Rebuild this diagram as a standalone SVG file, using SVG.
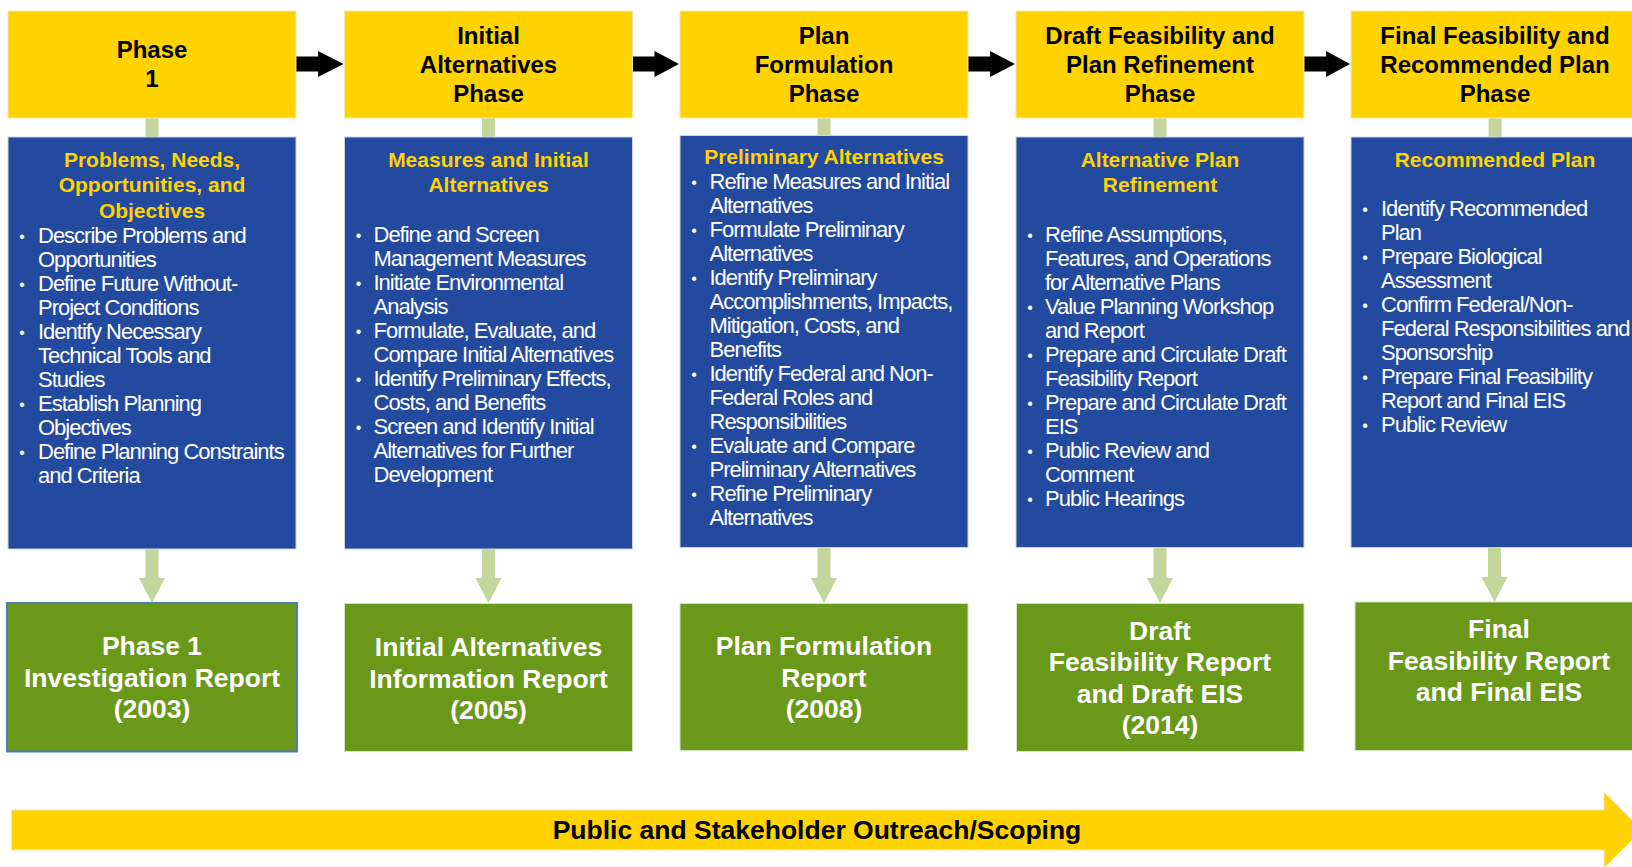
<svg xmlns="http://www.w3.org/2000/svg" width="1632" height="867" viewBox="0 0 1632 867">
  <style>
    .phase { fill: #FFD300; stroke: #F2E6B0; stroke-width: 1; }
    .task { fill: #234A9E; stroke: #C9D2E6; stroke-width: 1; }
    .report { fill: #6A9819; stroke: #D6E2C0; stroke-width: 1; }
    .link { fill: #C3D69B; }
    .flow { fill: #000000; }
    .phase-t { font-family: "Liberation Sans", Arial, sans-serif; font-weight: bold; font-size: 24px; fill: #000000; text-anchor: middle; }
    .head-t { font-family: "Liberation Sans", Arial, sans-serif; font-weight: bold; font-size: 21px; fill: #FFD300; text-anchor: middle; }
    .item-t { font-family: "Liberation Sans", Arial, sans-serif; font-size: 22px; letter-spacing: -1px; fill: #FFFFFF; }
    .dot-t { font-family: "Liberation Sans", Arial, sans-serif; font-size: 16px; fill: #FFFFFF; text-anchor: middle; }
    .report-t { font-family: "Liberation Sans", Arial, sans-serif; font-weight: bold; font-size: 26.5px; fill: #FFFFFF; text-anchor: middle; }
    .band-t { font-family: "Liberation Sans", Arial, sans-serif; font-weight: bold; font-size: 26.5px; fill: #000000; text-anchor: middle; }
  </style>

  <!-- connectors: phase-to-phase arrows, stems and report arrows -->
  <g id="connectors">
    <polygon class="flow" points="296,56.5 318,56.5 318,51 343.5,64 318,77 318,71.5 296,71.5"/>
    <polygon class="flow" points="632.5,56.5 654.5,56.5 654.5,51 679,64 654.5,77 654.5,71.5 632.5,71.5"/>
    <polygon class="flow" points="968,56.5 990,56.5 990,51 1015,64 990,77 990,71.5 968,71.5"/>
    <polygon class="flow" points="1304,56.5 1326,56.5 1326,51 1350,64 1326,77 1326,71.5 1304,71.5"/>

    <rect class="link" x="145.5" y="118" width="13" height="20"/>
    <rect class="link" x="482" y="118" width="13" height="20"/>
    <rect class="link" x="817.5" y="118" width="13" height="18"/>
    <rect class="link" x="1153.5" y="118" width="13" height="20"/>
    <rect class="link" x="1488.5" y="118" width="13" height="20"/>

    <polygon class="link" points="145.5,549 158.5,549 158.5,578 165,578 152,603 139,578 145.5,578"/>
    <polygon class="link" points="482,549 495,549 495,578 501.5,578 488.5,603 475.5,578 482,578"/>
    <polygon class="link" points="817.5,547.5 830.5,547.5 830.5,578 837,578 824,603 811,578 817.5,578"/>
    <polygon class="link" points="1153.5,547.5 1166.5,547.5 1166.5,578 1173,578 1160,603 1147,578 1153.5,578"/>
    <polygon class="link" points="1488,547.5 1501,547.5 1501,577 1507.5,577 1494.5,602 1481.5,577 1488,577"/>
  </g>

  <!-- Phase 1 -->
  <g id="phase1">
    <rect class="phase" x="8" y="11" width="288" height="107"/>
    <text class="phase-t"><tspan x="152" y="58">Phase</tspan><tspan x="152" y="87">1</tspan></text>
    <rect class="task" x="8" y="137" width="288" height="412"/>
    <text class="head-t"><tspan x="152" y="166.7">Problems, Needs,</tspan><tspan x="152" y="192.3">Opportunities, and</tspan><tspan x="152" y="217.5">Objectives</tspan></text>
    <text class="dot-t"><tspan x="22" y="242">•</tspan><tspan x="22" y="290">•</tspan><tspan x="22" y="338">•</tspan><tspan x="22" y="410">•</tspan><tspan x="22" y="458">•</tspan></text>
    <text class="item-t">
      <tspan x="38" y="243">Describe Problems and</tspan>
      <tspan x="38" y="267">Opportunities</tspan>
      <tspan x="38" y="291">Define Future Without-</tspan>
      <tspan x="38" y="315">Project Conditions</tspan>
      <tspan x="38" y="339">Identify Necessary</tspan>
      <tspan x="38" y="363">Technical Tools and</tspan>
      <tspan x="38" y="387">Studies</tspan>
      <tspan x="38" y="411">Establish Planning</tspan>
      <tspan x="38" y="435">Objectives</tspan>
      <tspan x="38" y="459">Define Planning Constraints</tspan>
      <tspan x="38" y="483">and Criteria</tspan>
    </text>
    <rect class="report" x="7" y="603" width="290" height="148.5" style="stroke:#4A7EBB;stroke-width:2"/>
    <text class="report-t"><tspan x="152" y="655">Phase 1</tspan><tspan x="152" y="686.5">Investigation Report</tspan><tspan x="152" y="718">(2003)</tspan></text>
  </g>

  <!-- Initial Alternatives Phase -->
  <g id="phase2">
    <rect class="phase" x="344.5" y="11" width="288" height="107"/>
    <text class="phase-t"><tspan x="488.5" y="44">Initial</tspan><tspan x="488.5" y="73">Alternatives</tspan><tspan x="488.5" y="102">Phase</tspan></text>
    <rect class="task" x="344.5" y="137" width="288" height="412"/>
    <text class="head-t"><tspan x="488.5" y="166.7">Measures and Initial</tspan><tspan x="488.5" y="192.3">Alternatives</tspan></text>
    <text class="dot-t"><tspan x="358.5" y="241">•</tspan><tspan x="358.5" y="289">•</tspan><tspan x="358.5" y="337">•</tspan><tspan x="358.5" y="385">•</tspan><tspan x="358.5" y="433">•</tspan></text>
    <text class="item-t">
      <tspan x="373.5" y="242">Define and Screen</tspan>
      <tspan x="373.5" y="266">Management Measures</tspan>
      <tspan x="373.5" y="290">Initiate Environmental</tspan>
      <tspan x="373.5" y="314">Analysis</tspan>
      <tspan x="373.5" y="338">Formulate, Evaluate, and</tspan>
      <tspan x="373.5" y="362">Compare Initial Alternatives</tspan>
      <tspan x="373.5" y="386">Identify Preliminary Effects,</tspan>
      <tspan x="373.5" y="410">Costs, and Benefits</tspan>
      <tspan x="373.5" y="434">Screen and Identify Initial</tspan>
      <tspan x="373.5" y="458">Alternatives for Further</tspan>
      <tspan x="373.5" y="482">Development</tspan>
    </text>
    <rect class="report" x="344.5" y="603.5" width="288" height="148"/>
    <text class="report-t"><tspan x="488.5" y="656">Initial Alternatives</tspan><tspan x="488.5" y="687.5">Information Report</tspan><tspan x="488.5" y="719">(2005)</tspan></text>
  </g>

  <!-- Plan Formulation Phase -->
  <g id="phase3">
    <rect class="phase" x="680" y="11" width="288" height="107"/>
    <text class="phase-t"><tspan x="824" y="44">Plan</tspan><tspan x="824" y="73">Formulation</tspan><tspan x="824" y="102">Phase</tspan></text>
    <rect class="task" x="680" y="135.5" width="288" height="412"/>
    <text class="head-t"><tspan x="824" y="164">Preliminary Alternatives</tspan></text>
    <text class="dot-t"><tspan x="694" y="188">•</tspan><tspan x="694" y="236">•</tspan><tspan x="694" y="284">•</tspan><tspan x="694" y="380">•</tspan><tspan x="694" y="452">•</tspan><tspan x="694" y="500">•</tspan></text>
    <text class="item-t">
      <tspan x="709.5" y="189">Refine Measures and Initial</tspan>
      <tspan x="709.5" y="213">Alternatives</tspan>
      <tspan x="709.5" y="237">Formulate Preliminary</tspan>
      <tspan x="709.5" y="261">Alternatives</tspan>
      <tspan x="709.5" y="285">Identify Preliminary</tspan>
      <tspan x="709.5" y="309">Accomplishments, Impacts,</tspan>
      <tspan x="709.5" y="333">Mitigation, Costs, and</tspan>
      <tspan x="709.5" y="357">Benefits</tspan>
      <tspan x="709.5" y="381">Identify Federal and Non-</tspan>
      <tspan x="709.5" y="405">Federal Roles and</tspan>
      <tspan x="709.5" y="429">Responsibilities</tspan>
      <tspan x="709.5" y="453">Evaluate and Compare</tspan>
      <tspan x="709.5" y="477">Preliminary Alternatives</tspan>
      <tspan x="709.5" y="501">Refine Preliminary</tspan>
      <tspan x="709.5" y="525">Alternatives</tspan>
    </text>
    <rect class="report" x="680" y="603.5" width="288" height="147"/>
    <text class="report-t"><tspan x="824" y="655">Plan Formulation</tspan><tspan x="824" y="686.5">Report</tspan><tspan x="824" y="718">(2008)</tspan></text>
  </g>

  <!-- Draft Feasibility and Plan Refinement Phase -->
  <g id="phase4">
    <rect class="phase" x="1016" y="11" width="288" height="107"/>
    <text class="phase-t"><tspan x="1160" y="44">Draft Feasibility and</tspan><tspan x="1160" y="73">Plan Refinement</tspan><tspan x="1160" y="102">Phase</tspan></text>
    <rect class="task" x="1016" y="137" width="288" height="410.5"/>
    <text class="head-t"><tspan x="1160" y="166.7">Alternative Plan</tspan><tspan x="1160" y="192.3">Refinement</tspan></text>
    <text class="dot-t"><tspan x="1030" y="241">•</tspan><tspan x="1030" y="313">•</tspan><tspan x="1030" y="361">•</tspan><tspan x="1030" y="409">•</tspan><tspan x="1030" y="457">•</tspan><tspan x="1030" y="505">•</tspan></text>
    <text class="item-t">
      <tspan x="1045" y="242">Refine Assumptions,</tspan>
      <tspan x="1045" y="266">Features, and Operations</tspan>
      <tspan x="1045" y="290">for Alternative Plans</tspan>
      <tspan x="1045" y="314">Value Planning Workshop</tspan>
      <tspan x="1045" y="338">and Report</tspan>
      <tspan x="1045" y="362">Prepare and Circulate Draft</tspan>
      <tspan x="1045" y="386">Feasibility Report</tspan>
      <tspan x="1045" y="410">Prepare and Circulate Draft</tspan>
      <tspan x="1045" y="434">EIS</tspan>
      <tspan x="1045" y="458">Public Review and</tspan>
      <tspan x="1045" y="482">Comment</tspan>
      <tspan x="1045" y="506">Public Hearings</tspan>
    </text>
    <rect class="report" x="1016.5" y="603.5" width="287.5" height="148"/>
    <text class="report-t"><tspan x="1160" y="639.5">Draft</tspan><tspan x="1160" y="671">Feasibility Report</tspan><tspan x="1160" y="702.5">and Draft EIS</tspan><tspan x="1160" y="734">(2014)</tspan></text>
  </g>

  <!-- Final Feasibility and Recommended Plan Phase -->
  <g id="phase5">
    <rect class="phase" x="1351" y="11" width="288" height="107"/>
    <text class="phase-t"><tspan x="1495" y="44">Final Feasibility and</tspan><tspan x="1495" y="73">Recommended Plan</tspan><tspan x="1495" y="102">Phase</tspan></text>
    <rect class="task" x="1351" y="137" width="288" height="410.5"/>
    <text class="head-t"><tspan x="1495" y="166.7">Recommended Plan</tspan></text>
    <text class="dot-t"><tspan x="1365" y="215">•</tspan><tspan x="1365" y="263">•</tspan><tspan x="1365" y="311">•</tspan><tspan x="1365" y="383">•</tspan><tspan x="1365" y="431">•</tspan></text>
    <text class="item-t">
      <tspan x="1381" y="216">Identify Recommended</tspan>
      <tspan x="1381" y="240">Plan</tspan>
      <tspan x="1381" y="264">Prepare Biological</tspan>
      <tspan x="1381" y="288">Assessment</tspan>
      <tspan x="1381" y="312">Confirm Federal/Non-</tspan>
      <tspan x="1381" y="336">Federal Responsibilities and</tspan>
      <tspan x="1381" y="360">Sponsorship</tspan>
      <tspan x="1381" y="384">Prepare Final Feasibility</tspan>
      <tspan x="1381" y="408">Report and Final EIS</tspan>
      <tspan x="1381" y="432">Public Review</tspan>
    </text>
    <rect class="report" x="1355" y="602" width="288" height="148.5"/>
    <text class="report-t"><tspan x="1499" y="638">Final</tspan><tspan x="1499" y="669.5">Feasibility Report</tspan><tspan x="1499" y="701">and Final EIS</tspan></text>
  </g>

  <!-- outreach band running under all phases -->
  <g id="outreach">
    <polygon points="11.5,810 1604,810 1604,792 1642,830 1604,868 1604,850 11.5,850" fill="#FFD300" stroke="#F7EBB8" stroke-width="1"/>
    <text class="band-t" x="817" y="839">Public and Stakeholder Outreach/Scoping</text>
  </g>
</svg>
